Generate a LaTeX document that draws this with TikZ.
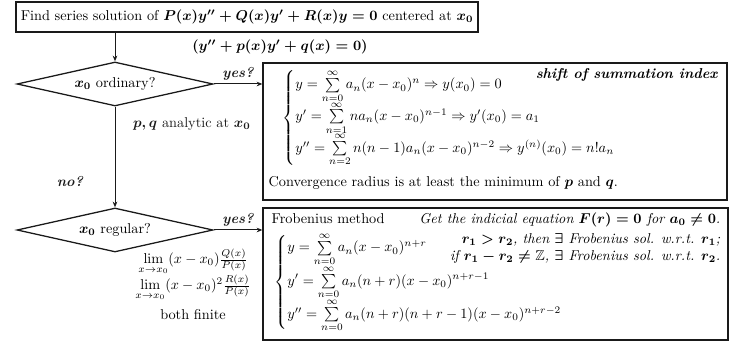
\documentclass[tikz,border=0pt]{standalone}
\usepackage{amsmath,amssymb}
\usetikzlibrary{positioning,calc,arrows.meta,shapes.geometric}
\definecolor{fcline}{HTML}{1A1A1A}
\tikzset{
  fcpx/.style={x=0.7pt,y=-0.7pt},
  caixa/.style={draw=fcline,line width=0.9pt,inner sep=0pt},
  losango/.style={diamond,draw=fcline,line width=0.9pt,aspect=4.45,inner sep=0pt,
    minimum width=137.2pt,minimum height=30.8pt,font=\boldmath},
  rotulo/.style={font=\bfseries\itshape,inner sep=2pt},
  nota/.style={inner sep=0pt,font=\itshape\boldmath},
  seta/.style={-{Stealth[length=4pt,width=3.2pt]},line width=0.7pt,fcline},
}
\begin{document}
\begin{tikzpicture}[fcpx]
  \useasboundingbox (0,0) rectangle (737,342);
  \node[caixa,minimum width=323.4pt,minimum height=21pt,font=\boldmath] (top) at (247,17)
    {Find series solution of $P(x)y''+Q(x)y'+R(x)y=0$ centered at $x_0$};
  \node[font=\boldmath] (red) at (280,47) {$(y''+p(x)y'+q(x)=0)$};
  \node[losango] (ord) at (115,84) {$x_0$ ordinary?};
  \node[losango] (reg) at (115,230) {$x_0$ regular?};
  \node[caixa,minimum width=324.8pt,minimum height=95.9pt] (ser) at (495,131.5) {};
  \node[caixa,minimum width=325.5pt,minimum height=92.4pt] (frob) at (495.5,274) {};
  \node[anchor=north west,inner sep=0pt] (serc) at ([shift={(20,7)}]ser.north west) {$\begin{cases}
      y=\sum\limits_{n=0}^{\infty}a_n(x-x_0)^n\Rightarrow y(x_0)=0\\[-1pt]
      y'=\sum\limits_{n=1}^{\infty}na_n(x-x_0)^{n-1}\Rightarrow y'(x_0)=a_1\\[-1pt]
      y''=\sum\limits_{n=2}^{\infty}n(n-1)a_n(x-x_0)^{n-2}\Rightarrow y^{(n)}(x_0)=n!a_n
    \end{cases}$};
  \node[rotulo,anchor=north east,inner sep=0pt] (shift) at ([shift={(-10,6)}]ser.north east) {shift of summation index};
  \node[anchor=base west,inner sep=0pt,font=\boldmath] (conv) at ([shift={(6,-14)}]ser.south west)
    {Convergence radius is at least the minimum of $p$ and $q$.};
  \node[anchor=base west,inner sep=0pt] (frobt) at ([shift={(9,16)}]frob.north west) {Frobenius method};
  \node[nota,anchor=base east] (indic) at ([shift={(-8,16)}]frob.north east)
    {Get the indicial equation $F(r)=0$ for $a_0\neq0$.};
  \node[nota,anchor=north east,align=right] (raiz) at ([shift={(-8,26)}]frob.north east)
    {$r_1>r_2$, then $\exists$ Frobenius sol. w.r.t. $r_1$;\\
     if $r_1-r_2\neq\mathbb{Z}$, $\exists$ Frobenius sol. w.r.t. $r_2$.};
  \node[anchor=north west,inner sep=0pt] (frobc) at ([shift={(12,25)}]frob.north west) {$\begin{cases}
      y=\sum\limits_{n=0}^{\infty}a_n(x-x_0)^{n+r}\\
      y'=\sum\limits_{n=0}^{\infty}a_n(n+r)(x-x_0)^{n+r-1}\\
      y''=\sum\limits_{n=0}^{\infty}a_n(n+r)(n+r-1)(x-x_0)^{n+r-2}
    \end{cases}$};
  \node (lim1) at (193,262) {$\lim\limits_{x\to x_0}(x-x_0)\frac{Q(x)}{P(x)}$};
  \node (lim2) at (193,288) {$\lim\limits_{x\to x_0}(x-x_0)^2\frac{R(x)}{P(x)}$};
  \node (fin) at (193,315) {both finite};
  \draw[seta] (top.south -| ord) -- (ord.north);
  \draw[seta] (ord.east) -- (ord.east -| ser.west) node[rotulo,midway,above] {yes?};
  \draw[seta] (ord.south) -- (reg.north)
    node[pos=0.17,right=9pt,font=\boldmath] {$p,q$ analytic at $x_0$}
    node[rotulo,pos=0.74,left=20pt] {no?};
  \draw[seta] (reg.east) -- (reg.east -| frob.west) node[rotulo,midway,above] {yes?};
\end{tikzpicture}
\end{document}
